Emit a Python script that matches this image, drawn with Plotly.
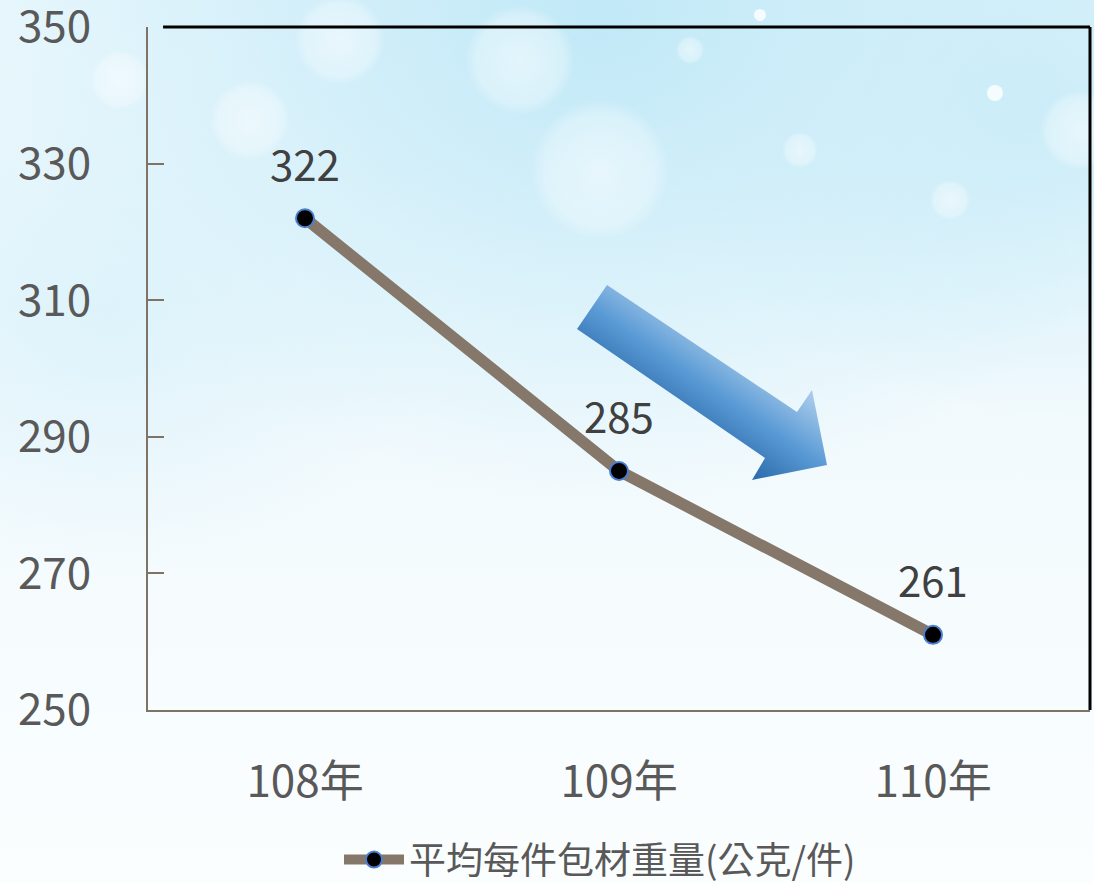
import base64
import plotly.graph_objects as go

# ---- data ----
years = ["108年", "109年", "110年"]
weights = [322, 285, 261]
series_name = "平均每件包材重量(公克/件)"
y_ticks = [250, 270, 290, 310, 330, 350]

W, H = 1094, 883
ML, MR, MT, MB = 148, 4, 27, 173
PW, PH = W - ML - MR, H - MT - MB

FONT = "Noto Sans CJK TC"

svg = f'''<svg xmlns="http://www.w3.org/2000/svg" width="{W}" height="{H}" viewBox="0 0 {W} {H}" preserveAspectRatio="none">
<defs>
<linearGradient id="bg" x1="0" y1="0" x2="0" y2="1">
<stop offset="0" stop-color="#E6F6FC"/><stop offset="0.5" stop-color="#F2FAFD"/><stop offset="1" stop-color="#FBFEFF"/>
</linearGradient>
<radialGradient id="g1" cx="0.55" cy="0.02" r="0.55">
<stop offset="0" stop-color="#BFE8F7" stop-opacity="0.95"/><stop offset="1" stop-color="#BFE8F7" stop-opacity="0"/>
</radialGradient>
<radialGradient id="g2" cx="0.95" cy="0.12" r="0.35">
<stop offset="0" stop-color="#C9ECF8" stop-opacity="0.9"/><stop offset="1" stop-color="#C9ECF8" stop-opacity="0"/>
</radialGradient>
<radialGradient id="g3" cx="0.1" cy="0.35" r="0.3">
<stop offset="0" stop-color="#D6F0FA" stop-opacity="0.7"/><stop offset="1" stop-color="#D6F0FA" stop-opacity="0"/>
</radialGradient>
<radialGradient id="bk">
<stop offset="0" stop-color="#FFFFFF" stop-opacity="0.5"/><stop offset="0.8" stop-color="#FFFFFF" stop-opacity="0.3"/><stop offset="1" stop-color="#FFFFFF" stop-opacity="0"/>
</radialGradient>
<linearGradient id="arr" gradientUnits="userSpaceOnUse" x1="672" y1="421" x2="728" y2="339">
<stop offset="0" stop-color="#2E6DAE"/><stop offset="0.5" stop-color="#5B9BD5"/><stop offset="1" stop-color="#A7CAEA"/>
</linearGradient>
</defs>
<rect x="0" y="0" width="{W}" height="{H}" fill="url(#bg)"/>
<rect x="0" y="0" width="{W}" height="{H}" fill="url(#g1)"/>
<rect x="0" y="0" width="{W}" height="{H}" fill="url(#g2)"/>
<rect x="0" y="0" width="{W}" height="{H}" fill="url(#g3)"/>
<circle cx="250" cy="120" r="40" fill="url(#bk)"/>
<circle cx="340" cy="40" r="45" fill="url(#bk)"/>
<circle cx="520" cy="60" r="55" fill="url(#bk)"/>
<circle cx="600" cy="170" r="70" fill="url(#bk)"/>
<circle cx="800" cy="150" r="18" fill="url(#bk)"/>
<circle cx="950" cy="200" r="20" fill="url(#bk)"/>
<circle cx="1080" cy="130" r="40" fill="url(#bk)"/>
<circle cx="690" cy="50" r="14" fill="url(#bk)"/>
<circle cx="120" cy="80" r="30" fill="url(#bk)"/>
<circle cx="995" cy="93" r="8" fill="#FFFFFF" fill-opacity="0.8"/>
<circle cx="760" cy="15" r="6" fill="#FFFFFF" fill-opacity="0.8"/>
<polygon points="607,285 797,412 812,390 827,465 752,480 765,458 577,329" fill="url(#arr)"/>
</svg>'''
src = "data:image/svg+xml;base64," + base64.b64encode(svg.encode("utf-8")).decode("ascii")

fig = go.Figure()
fig.add_trace(go.Scatter(
    x=years, y=weights, name=series_name, mode="lines+markers",
    line=dict(color="#85786A", width=11.5),
    marker=dict(size=18, color="#000000", line=dict(color="#4A7FD0", width=2)),
))

for xv, yv in zip(years, weights):
    fig.add_annotation(x=xv, y=yv, text=str(yv), showarrow=False, yshift=56,
                       font=dict(family=FONT, size=42, color="#404040"))

fig.add_shape(type="line", xref="paper", yref="paper", x0=0.016, x1=1, y0=1, y1=1,
              line=dict(color="#000000", width=3))
fig.add_shape(type="line", xref="paper", yref="paper", x0=1, x1=1, y0=0, y1=1,
              line=dict(color="#000000", width=3))

fig.update_layout(
    width=W, height=H,
    margin=dict(l=ML, r=MR, t=MT, b=MB, autoexpand=False),
    paper_bgcolor="#F2FAFD",
    plot_bgcolor="rgba(0,0,0,0)",
    font=dict(family=FONT, color="#595959"),
    images=[dict(source=src, xref="paper", yref="paper",
                 x=-ML / PW, y=1 + MT / PH, sizex=W / PW, sizey=H / PH,
                 xanchor="left", yanchor="top", sizing="stretch", layer="below")],
    xaxis=dict(range=[-0.5, 2.5], showline=True, linecolor="#7F7366", linewidth=2,
               showgrid=False, zeroline=False, ticks="",
               tickfont=dict(family=FONT, size=44, color="#595959"),
               ticklabelstandoff=32),
    yaxis=dict(range=[250, 350], tickvals=y_ticks, showline=True, linecolor="#7F7366",
               linewidth=2, showgrid=False, zeroline=False, ticks="inside", ticklen=16,
               tickcolor="#7F7366", tickwidth=2, ticklabeloverflow="allow",
               tickfont=dict(family=FONT, size=44, color="#595959"),
               ticklabelstandoff=46),
    showlegend=True,
    legend=dict(orientation="h", xref="container", yref="container",
                x=600 / W, xanchor="center", y=1 - 860 / H, yanchor="middle",
                itemwidth=60, bgcolor="rgba(0,0,0,0)",
                font=dict(family=FONT, size=37, color="#595959")),
)

fig.write_html("out.html", config={"displayModeBar": False},
               post_script="document.body.style.margin='0';document.body.style.overflow='hidden';")
